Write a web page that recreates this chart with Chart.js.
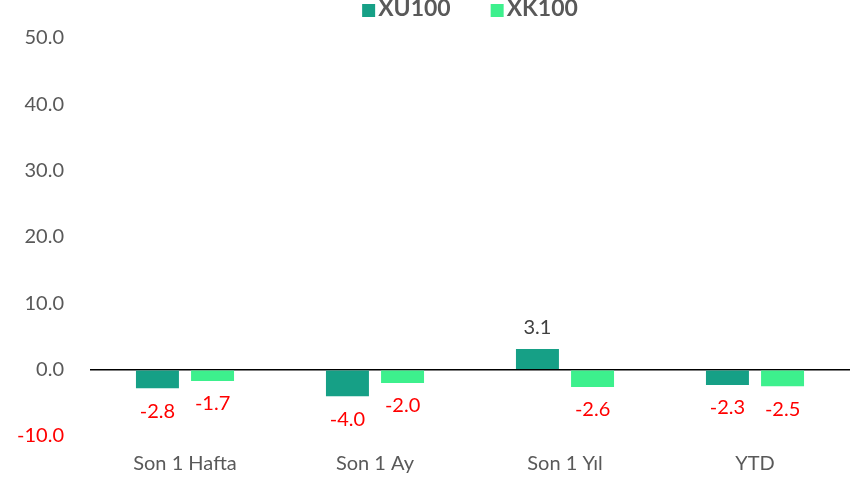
<!DOCTYPE html>
<html>
<head>
<meta charset="utf-8">
<script src="https://cdn.jsdelivr.net/npm/chart.js@4"></script>
<style>
  body { margin: 0; background: #fff; }
</style>
</head>
<body>
<canvas id="chart" width="851" height="482"></canvas>
<script>
const categories = ['Son 1 Hafta', 'Son 1 Ay', 'Son 1 Yıl', 'YTD'];
const xu100 = [-2.8, -4.0, 3.1, -2.3];
const xk100 = [-1.7, -2.0, -2.6, -2.5];
const yTicks = [-10, 0, 10, 20, 30, 40, 50];

const FONT = 'Lato, "DejaVu Sans", sans-serif';
const GRAY = '#595959';

// value labels under / over bars
const valueLabels = {
    id: 'valueLabels',
    afterDatasetsDraw(chart) {
        const ctx = chart.ctx;
        ctx.save();
        ctx.font = '20px ' + FONT;
        ctx.textAlign = 'center';
        ctx.textBaseline = 'middle';
        chart.data.datasets.forEach((ds, i) => {
            chart.getDatasetMeta(i).data.forEach((bar, j) => {
                const v = ds.data[j];
                if (v < 0) {
                    ctx.fillStyle = '#FF0000';
                    ctx.fillText(v.toFixed(1), bar.x, bar.y + 23);
                } else {
                    ctx.fillStyle = '#404040';
                    ctx.fillText(v.toFixed(1), bar.x, bar.y - 22);
                }
            });
        });
        ctx.restore();
    }
};

// legend on top
const topLegend = {
    id: 'topLegend',
    afterDraw(chart) {
        const ctx = chart.ctx;
        const area = chart.chartArea;
        ctx.save();
        ctx.font = 'bold 23px ' + FONT;
        ctx.textBaseline = 'middle';
        const box = 13, gap = 3, between = 40;
        const items = chart.data.datasets.map(ds => ({
            label: ds.label, color: ds.backgroundColor,
            w: box + gap + ctx.measureText(ds.label).width
        }));
        const total = items.reduce((s, it) => s + it.w, 0) + between * (items.length - 1);
        let x = (area.left + area.right) / 2 - total / 2;
        const y = 9;
        items.forEach(it => {
            ctx.fillStyle = it.color;
            ctx.fillRect(x, y - 5, box, box);
            ctx.fillStyle = GRAY;
            ctx.fillText(it.label, x + box + gap, y);
            x += it.w + between;
        });
        ctx.restore();
    }
};

new Chart(document.getElementById('chart'), {
    type: 'bar',
    data: {
        labels: categories,
        datasets: [
            { label: 'XU100', data: xu100, backgroundColor: '#16A086' },
            { label: 'XK100', data: xk100, backgroundColor: '#3DF08D' }
        ]
    },
    options: {
        responsive: false,
        animation: false,
        layout: { padding: { top: 24, right: 1, left: 0, bottom: 0 } },
        datasets: { bar: { categoryPercentage: 0.58, barPercentage: 0.78 } },
        plugins: {
            legend: { display: false },
            tooltip: { enabled: false }
        },
        scales: {
            x: {
                afterFit(scale) { scale.height = 46; },
                grid: { display: false, drawTicks: false },
                border: { display: false },
                ticks: { color: GRAY, font: { family: FONT, size: 20 }, padding: 16 }
            },
            y: {
                min: -10,
                max: 50,
                afterBuildTicks(scale) {
                    scale.ticks = yTicks.map(v => ({ value: v }));
                },
                afterFit(scale) { scale.width = 90; },
                grid: {
                    drawTicks: false,
                    color: c => c.tick && c.tick.value === 0 ? '#000000' : 'rgba(0,0,0,0)',
                    lineWidth: 1.5
                },
                border: { display: false },
                ticks: {
                    color: c => c.tick.value < 0 ? '#FF0000' : GRAY,
                    font: { family: FONT, size: 20 },
                    padding: 26,
                    callback: v => Number(v).toFixed(1)
                }
            }
        }
    },
    plugins: [valueLabels, topLegend]
});
</script>
</body>
</html>
